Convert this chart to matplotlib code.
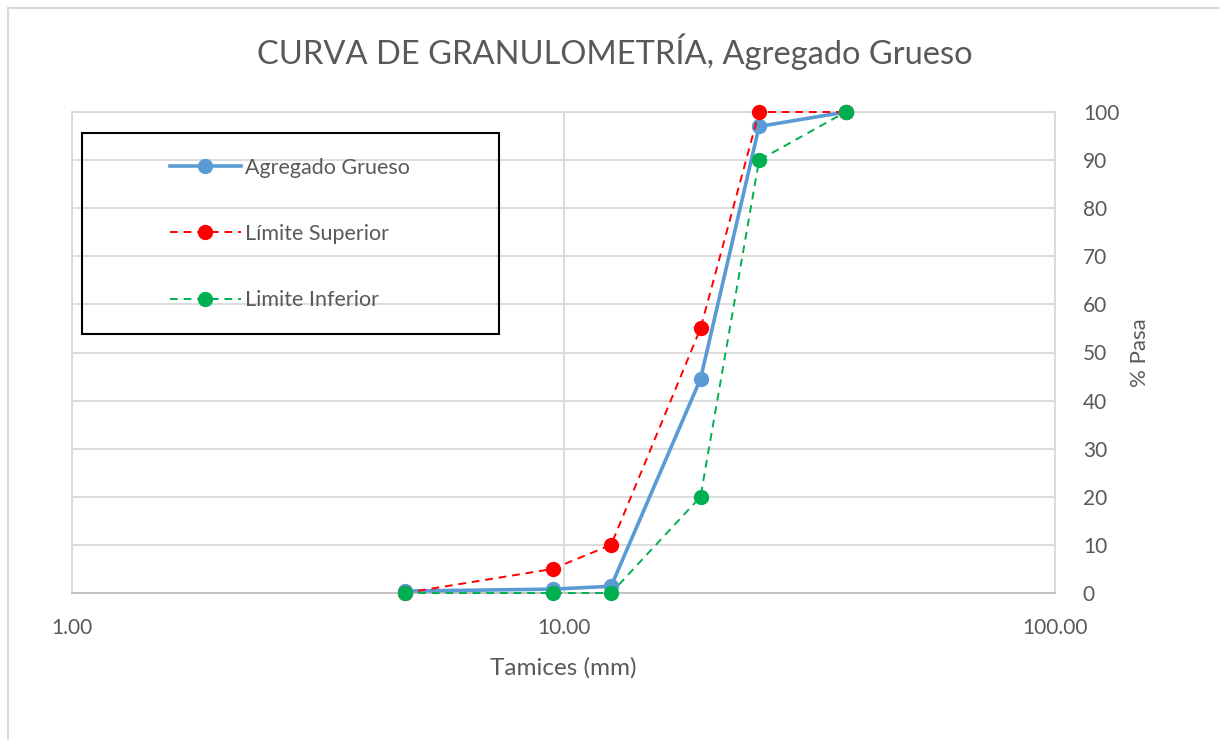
import matplotlib.pyplot as plt
from matplotlib.lines import Line2D
from matplotlib.patches import Rectangle
from matplotlib.ticker import FixedLocator, NullLocator

plt.rcParams['font.family'] = ['Lato', 'DejaVu Sans']

# sieve openings (mm) and % passing
tamices = [4.75, 9.5, 12.5, 19.0, 25.0, 37.5]
agregado_grueso = [0.4, 0.8, 1.4, 44.5, 97.0, 100.0]
limite_superior = [0, 5, 10, 55, 100, 100]
limite_inferior = [0, 0, 0, 20, 90, 100]

x_ticks = [1, 10, 100]
x_labels = ['1.00', '10.00', '100.00']
y_ticks = list(range(0, 101, 10))

text_col = '#595959'
grid_col = '#d9d9d9'

fig = plt.figure(figsize=(12.2, 7.4), dpi=100)
ax = fig.add_axes([72 / 1220, 1 - 593 / 740, 983 / 1220, 481 / 740])

ax.plot(tamices, agregado_grueso, color='#5b9bd5', lw=2.6, marker='o',
        ms=10, label='Agregado Grueso', zorder=3, clip_on=False)
ax.plot(tamices, limite_superior, color='#ff0000', lw=1.4, ls=(0, (4, 3)),
        marker='o', ms=10, label='Límite Superior', zorder=4, clip_on=False)
ax.plot(tamices, limite_inferior, color='#00b050', lw=1.4, ls=(0, (4, 3)),
        marker='o', ms=10, label='Limite Inferior', zorder=5, clip_on=False)

ax.set_xscale('log')
ax.set_xlim(1, 100)
ax.set_ylim(0, 100)
ax.xaxis.set_major_locator(FixedLocator(x_ticks))
ax.xaxis.set_minor_locator(NullLocator())
ax.set_xticklabels(x_labels)
ax.set_yticks(y_ticks)
ax.yaxis.tick_right()
ax.yaxis.set_label_position('right')
ax.tick_params(length=0, labelsize=15, colors=text_col)
ax.tick_params(axis='y', pad=20)
ax.tick_params(axis='x', pad=18)

ax.grid(True, color=grid_col, lw=1.3)
ax.set_axisbelow(True)
for s in ax.spines.values():
    s.set_color(grid_col)
    s.set_linewidth(1.3)
ax.spines['bottom'].set_color('#bfbfbf')

ax.set_xlabel('Tamices (mm)', fontsize=17.5, color=text_col, labelpad=14)
ax.set_ylabel('% Pasa', fontsize=16, color=text_col, labelpad=8)

fig.text(615 / 1220, 1 - 52 / 740, 'CURVA DE GRANULOMETRÍA, Agregado Grueso',
         ha='center', va='center', fontsize=23.5, color=text_col)

# legend box
fig.patches.append(Rectangle((82 / 1220, 1 - 334 / 740), 417 / 1220, 201 / 740,
                             transform=fig.transFigure, fill=True, fc='none',
                             ec='black', lw=1.5, zorder=10))
leg = ax.legend(loc='center', bbox_to_anchor=(290 / 1220, 1 - 234 / 740),
                bbox_transform=fig.transFigure, frameon=False, fontsize=15.5,
                handlelength=3.3, labelspacing=2.15, handletextpad=0.2)
for t in leg.get_texts():
    t.set_color(text_col)

# outer chart border (left and top visible)
fig.add_artist(Line2D([7.5 / 1220, 7.5 / 1220], [0, 1 - 8 / 740],
                      transform=fig.transFigure, color=grid_col, lw=1.5))
fig.add_artist(Line2D([7.5 / 1220, 1], [1 - 8 / 740, 1 - 8 / 740],
                      transform=fig.transFigure, color=grid_col, lw=1.5))

fig.savefig('out.png', dpi=100)
